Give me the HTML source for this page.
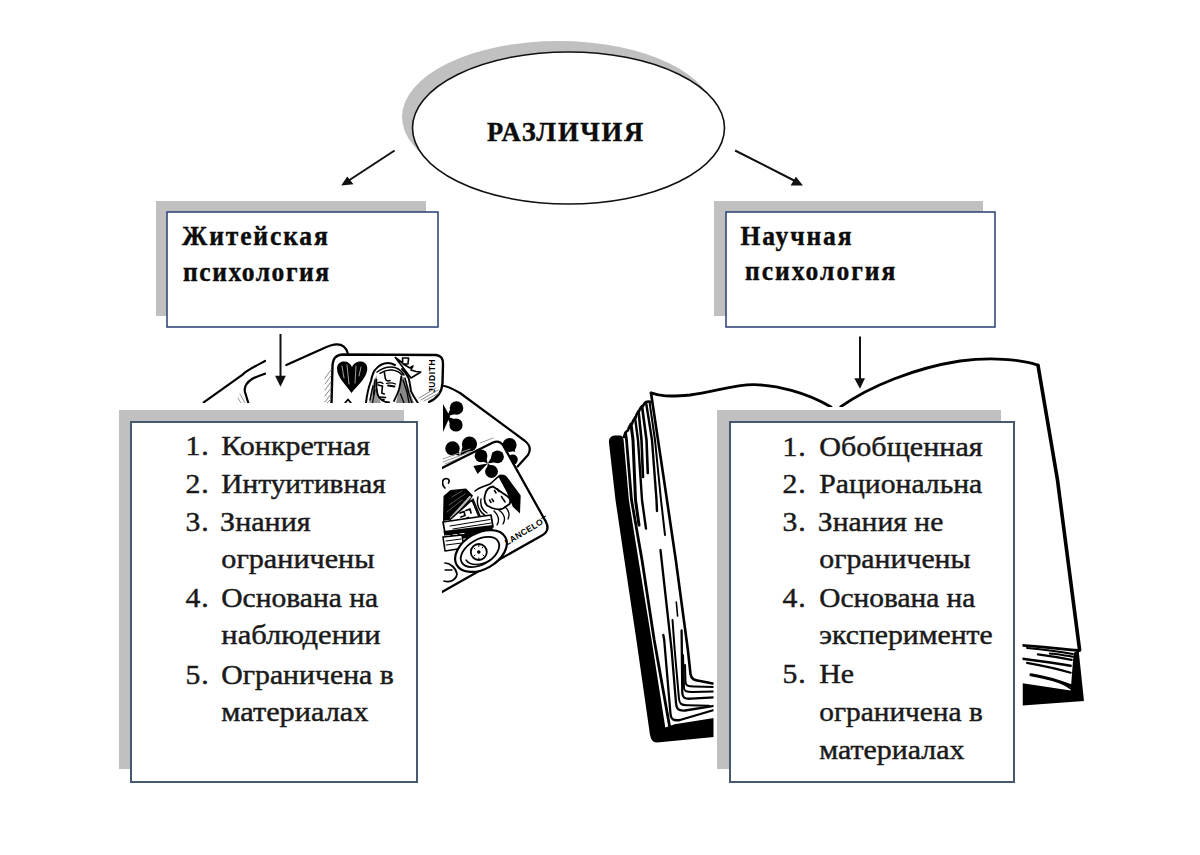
<!DOCTYPE html>
<html><head><meta charset="utf-8">
<style>
html,body{margin:0;padding:0;background:#fff;width:1200px;height:855px;overflow:hidden}
svg{display:block}
.b{font-family:"Liberation Serif",serif;font-weight:bold;fill:#0c0c0c;stroke:#0c0c0c;stroke-width:0.4px}
.r{font-family:"Liberation Serif",serif;fill:#1a1a1a}
</style></head><body>
<svg width="1200" height="855" viewBox="0 0 1200 855">
<ellipse cx="558.5" cy="117" rx="156.5" ry="76" fill="#c0c0c0"/>
<ellipse cx="568.5" cy="128" rx="156" ry="76" fill="#fff" stroke="#111" stroke-width="1.6"/>
<text class="b" font-size="28" letter-spacing="1.8" transform="translate(487,140.5) scale(0.95,1)">РАЗЛИЧИЯ</text>
<line x1="394.6" y1="150.5" x2="348" y2="181" stroke="#111" stroke-width="2"/>
<polygon points="341.2,185.6 347.2,176.5 353.5,184.2" fill="#111"/>
<line x1="735.1" y1="150.5" x2="797" y2="182" stroke="#111" stroke-width="2"/>
<polygon points="803,185.4 795.9,176.8 790.6,185.4" fill="#111"/>
<rect x="156" y="201" width="270" height="115" fill="#c0c0c0"/>
<rect x="167" y="212" width="271" height="115" fill="#fff" stroke="#34497a" stroke-width="1.6"/>
<text class="b" font-size="27.5" letter-spacing="2.0" transform="translate(182,244.5) scale(0.93,1)">Житейская</text>
<text class="b" font-size="27.5" letter-spacing="1.65" transform="translate(183,280.6) scale(0.93,1)">психология</text>
<rect x="714" y="201" width="269" height="115" fill="#c0c0c0"/>
<rect x="726" y="212" width="269" height="115" fill="#fff" stroke="#34497a" stroke-width="1.6"/>
<text class="b" font-size="27.5" letter-spacing="2.0" transform="translate(740.5,244.8) scale(0.93,1)">Научная</text>
<text class="b" font-size="27.5" letter-spacing="2.15" transform="translate(745,280.2) scale(0.93,1)">психология</text>
<g id="cards" stroke-linecap="round" stroke-linejoin="round" fill="none" stroke="#000">
<!-- hand lines -->
<path d="M203.7,402.3 L243,374.3 C246,371 250,369 265,361" stroke-width="2.2"/>
<path d="M265,373.7 C259,376 255,377 252,379 C246,383 244,388 245,392 L248.3,403" stroke-width="2.2"/>
<path d="M240,394 L245,403 M238,398 L241,403" stroke="#999" stroke-width="1"/>
<path d="M286.3,365 L320.3,349.7 C327,346.5 331,344.3 337,344.3 C343,344.3 346,347 347.7,353" stroke-width="2.2"/>
<!-- card 2 (clubs) -->
<path d="M444,386 L525,441 C530,445 531,450 528,455 L517.6,466.5 L442,520 L442,386 Z" fill="#fff" stroke="none"/>
<path d="M444,386 C447,386 452,388.5 460,393 L525,441 C530,445 531,450 528,455 L517.6,466.5" stroke-width="2.2"/>
<g fill="#000" stroke="none">
<circle cx="456.5" cy="408.0" r="6.8"/><path d="M447.0,416.4 L460.3,412.3 L452.7,403.7 Z"/>
<circle cx="456.0" cy="425.0" r="6.6"/><path d="M447.0,416.4 L452.1,429.1 L459.9,420.9 Z"/>
<path d="M450,416.4 L443,404 L443,432 Z"/>
<circle cx="452.5" cy="448.5" r="7.2"/><path d="M460.0,456.0 L456.8,444.2 L448.2,452.8 Z"/>
<circle cx="469.5" cy="444.0" r="7.6"/><path d="M460.0,456.0 L474.6,448.0 L464.4,440.0 Z"/>
<circle cx="509.6" cy="445.0" r="7.0"/><path d="M515.0,452.0 L514.3,441.4 L504.9,448.6 Z"/>
<circle cx="512.8" cy="459.6" r="5"/>
</g>
<path d="M443,459 L470,449 M443,462 L470,452 M445,464 L478,451 M480,443 L493,438" stroke="#999" stroke-width="1"/>
<!-- card 1 (queen) -->
<path d="M331.5,403 L332.5,366 C333,358 336,355 343,354.5 L436,355 C441,355.5 443,358 443,364 L442.5,383 C442,392 438,398 429,402" fill="#fff" stroke-width="2.4"/>
<path d="M325,378 L331,370 M325,384 L331,376 M325,390 L331,382 M325,396 L331,388 M325,402 L331,394 M327,403 L331,399" stroke="#888" stroke-width="1"/>
<!-- heart -->
<path d="M351.5,393 C346,385 337,377 337,368.5 C337,363 341,361 345,361.5 C349,362 351,365 352,367 C353.5,363.5 357,361 361,361.5 C366,362 368,366 367,371 C365.5,379 357,386 351.5,393 Z" fill="#000" stroke="none"/>
<path d="M342,366 L344,378 M347,365 L349,384 M356,366 L355,383 M361,367 L359,376" stroke="#fff" stroke-width="0.9" opacity="0.7"/>
<path d="M345,403 L348,399.5 L351,403" stroke-width="1.8"/>
<!-- queen hair -->
<path d="M366,403 C367,394 369,386 371,381 C372,376 373,372 375,370 C379,365 383,363 388,363 C391,363 393,364 395,365" stroke-width="2"/>
<path d="M402,369 C405,372 407,375 408.6,378 C410,383 410.5,388 411,391 C413,396 416,400 418,403" stroke-width="2"/>
<!-- hair shading -->
<path d="M369,403 L371,390 L374,380 L377,375 L376.4,379.4 L377.6,394.6 L381,403 Z" fill="#999" stroke="none"/>
<path d="M399,390 L401.3,376.3 L405,378 L408,385 L410,392 L414,403 L396,403 Z" fill="#888" stroke="none"/>
<path d="M370,400 L373,386 M372.5,403 L375,390 M375,380 L373.5,395 M403,380 L407,392 L409,403 M400.5,394 L404,403 M405,378 C407,384 407,390 412,403" stroke-width="1.3"/>
<path d="M377,372 C381,369 386,367 391,367 C396,367 401,370 404,375 M380,373.3 C384,370.5 388,369.5 392,370 C396,370.5 400,372.5 402,375" stroke-width="1.5"/>
<!-- face -->
<path d="M376.4,379.4 C376,385 376.5,390 377.6,394.6 C379,399 384,402.5 389.2,402.5" stroke-width="1.8"/>
<path d="M401.3,376.3 C400.5,382 400,386 398.9,389.7 C397.5,394 395.5,398 394,401" stroke-width="1.8"/>
<path d="M384.3,372 C385,376 385,379 386,380 C387.5,381.5 389,381 390,380.6" stroke-width="1.6"/>
<path d="M377.5,383 C379,382 381,382 383,383.5 M386.5,383.5 C389,382.5 392,382.5 395.5,384" stroke-width="1.3"/>
<path d="M378.2,385 L381.9,386 M388,385.5 L394.5,386.5" stroke-width="1.8"/>
<path d="M382.5,386 C382.3,389 381.8,391 381.9,393.3 L384.3,394" stroke-width="1.6"/>
<path d="M380,397 L385.5,397.6 M382,399.5 L384,399.6" stroke-width="1.5"/>
<!-- crown -->
<path d="M395.3,357.5 L402.6,363 L402.6,358 L408.6,358 L408,364 L403,364 L410,368 L413,366 L411,370 L416,371.5 L420.8,372 L411,378 Z" fill="#fff" stroke-width="1.6"/>
<text transform="translate(434.5,393) rotate(-90)" font-family="Liberation Sans, sans-serif" font-weight="bold" font-size="8.5" fill="#000" stroke="none" letter-spacing="0.6">JUDITH</text>
<path d="M421,400 L438,390 M424,401 L439,393 M419,398 L436,388" stroke="#888" stroke-width="1"/>
<!-- card 3 (Lancelot) -->
<path d="M442,468 L493,442.5 C498,440.5 501,442 503.5,446 L546,522 C549,528 547,533 541,536 L442,592" fill="#fff" stroke-width="2.3"/>
<g fill="#000" stroke="none">
<circle cx="481.0" cy="455.8" r="6.4"/><path d="M487.7,463.6 L485.1,452.3 L476.9,459.3 Z"/>
<circle cx="497.5" cy="456.8" r="6.4"/><path d="M487.7,463.6 L500.6,461.3 L494.4,452.3 Z"/>
<circle cx="491.5" cy="471.5" r="6.4"/><path d="M487.7,463.6 L486.6,473.9 L496.4,469.1 Z"/>
<path d="M487.7,463.6 L473.4,466.0 L477.6,474.0 Z"/>
</g>
<!-- hat -->
<path d="M498,476 C501,474 504,474 507,477 L520.7,495.4 L520,513.5 L512.8,506.8 L506.7,492 Z" fill="#000" stroke="none"/>
<path d="M475,491 C480,487 486,486 490,484 C494,481 497,477 500,475.5" stroke-width="1.6"/>
<!-- face -->
<path d="M485,495 C486,490 489,487 493,486.5 L507,496 C510,498 511,501 509.5,504 L503,508.5 C500,510 496,509.5 492,508 L487,505.5 C484.5,503 484,499 485,495 Z" fill="#fff" stroke-width="1.8"/>
<path d="M494.5,490.5 L496,493 M497.5,489 L499,491.5 M489.5,500 L491,502.5 M492,499 L493.5,501.5 M501.5,496.5 L503,499 M503.5,499.5 L505,502" stroke-width="1.5"/>
<path d="M478,497 C476,504 479,512 486,516 M481,499 C480,505 482,510 487,513" stroke-width="1.4"/>
<path d="M494,511 C498,515 500,520 497,525 M499,510 C504,514 506,519 503,524 M505,507 C509,510 510,515 508,519" stroke-width="1.3"/>
<!-- left helmet -->
<path d="M443.5,496 L450.5,490 L466,488.4 L473,495.4 L468,504 L449,520 L443,521 Z" fill="#000" stroke="none"/>
<path d="M470,497 L451,518" stroke="#bbb" stroke-width="2.2"/>
<path d="M452,497 L462,491 M449,505 L465,494 M447,512 L462,500" stroke="#666" stroke-width="0.9"/>
<path d="M445,488 C441,484 442,479 446,478.5 C449,478.5 450,481 448.5,483" stroke-width="1.7"/>
<!-- cross box -->
<path d="M449.6,520 L472,500 L479.5,518 L455,527 Z" fill="#fff" stroke-width="1.6"/>
<path d="M473,499 L480,516" stroke-width="1.4"/>
<path d="M460,513 L464,511.5 L465,515.5 L461,517 M466,510.5 L470,509 L471,513 M462,520 L468.5,517.5" stroke-width="1.7"/>
<!-- strap -->
<path d="M443,522 L491,515 L493,527 L445,533 Z" fill="#fff" stroke-width="1.7"/>
<path d="M450,526 L490,519.5 M453,529 L491,523" stroke-width="1"/>
<path d="M443.5,531 L492.6,525 L493,536 L445,540 Z" fill="#000" stroke="none"/>
<path d="M445,536 L450,535.5 M453,535 L457,534.5 M460,534 L464,533.5" stroke="#fff" stroke-width="1.2"/>
<!-- sleeve box -->
<path d="M443,537 L462,535 L464,548 L445,551 Z" fill="#fff" stroke-width="1.6"/>
<path d="M446,541 L461,539 M446,545 L462,543" stroke-width="1"/>
<!-- shield -->
<ellipse cx="481" cy="551" rx="28" ry="18" transform="rotate(-30 481 551)" fill="#fff" stroke-width="2.2"/>
<ellipse cx="480" cy="552" rx="21" ry="12.5" transform="rotate(-30 480 552)" stroke-width="1.8"/>
<path d="M466,560 C470,566 480,566 490,560" stroke-width="1.4"/>
<circle cx="478.8" cy="552" r="8" fill="#fff" stroke-width="1.8"/>
<circle cx="478.8" cy="552" r="1.8" fill="#000" stroke="none"/>
<path d="M474,548 L475,549 M483,547 L482,548 M484,556 L483,555 M474,556 L475,555 M478.8,545 L478.8,546.5 M478.8,558 L478.8,559" stroke-width="1"/>
<!-- hand -->
<path d="M445,563 C450,563 456,568 457,574 C456,580 450,583 444,581" fill="#fff" stroke-width="1.7"/>
<path d="M445,570 L452,570" stroke-width="1.3"/>
<text transform="translate(507,545.5) rotate(-31)" font-family="Liberation Sans, sans-serif" font-weight="bold" font-size="8.5" fill="#000" stroke="none" letter-spacing="0.3">LANCELOT</text>
</g>
<g id="book" stroke-linecap="round" stroke-linejoin="round" fill="none" stroke="#000">
<path d="M651,393 C660,396 670,397 690,395 C715,391 735,384 754,384.7 C775,385.5 805,392 831,407 L841,407 C870,385 925,364 982,359 C1005,358 1025,360 1038,365 L1080,650 L1084,702 L1022,706 L714,737 L654,742 L610,441 Z" fill="#fff" stroke="none"/>
<!-- black cover left -->
<path d="M614,435.6 C610,436.5 609,439 608.9,442 L615.5,500 L624.4,560 L636.4,640 L649.3,730 C650,738 652,742.5 657,742.5 L714,737 L714,718 L674.7,724.2 L665.3,727.4 L651.6,640 L638.5,560 L628.9,500 L623.6,440 C623,436.5 622,435.5 620,435.5 Z" fill="#000" stroke="none"/>
<!-- stair contour -->
<path d="M624,437 C625,433 626,431 628,430.5 C629,426.5 630,424.5 632,424 C633,420.5 634,418.5 635.5,418 C636.5,414 637.5,412 639,411.5 C640,408 641,406.5 643,406 C644,403.5 645,402 647,401.8 C648.5,401.3 650,401.5 651,402" stroke-width="2.6"/>
<path d="M625.5,433 L626.5,440 L631.5,500 L642,560 L654.2,640 L669.5,726" stroke-width="2.8"/>
<path d="M631,424 L633,440 L635.5,500 L639,525" stroke-width="3"/>
<path d="M635,417.5 L638,440 L642,500 L646,528.6" stroke-width="2.4"/>
<path d="M638.5,411 L641.5,440 L643,477" stroke-width="2.6"/>
<path d="M642,406 L646.5,440 L647.8,473" stroke-width="2.6"/>
<path d="M646,402 L652,440 L656.5,500 L657,511" stroke-width="2.4"/>
<path d="M649.5,402 L655,440 L661,500 L665,535" stroke-width="2"/>
<path d="M676.3,602 L677.6,616" stroke-width="1.6"/>
<!-- bottom nested curves -->
<path d="M663.3,635 L664.2,640 L670.5,714 C671,719 673,721 680,720 L714,710" stroke-width="2.3"/>
<path d="M660.5,550 L661.6,560 L671.6,650 L676,703 C676.5,709 678,711 685,710.5 L714,705.8" stroke-width="2.3"/>
<path d="M672.5,620 L674.7,650 L679,699 C679.5,703.5 681,705.5 688,705.2 L709,705.8" stroke-width="2"/>
<path d="M681.6,630.5 L682.3,693 C682.6,697.5 684,699 691,698.7 L714,697.4" stroke-width="2.3"/>
<path d="M683,655 L684,688 C684.3,691 686,692 692,692 L714,691.6" stroke-width="2"/>
<path d="M685,665 L685.5,682 C685.8,685.5 688,686.5 694,686.5 L714,687" stroke-width="2"/>
<!-- page edge -->
<path d="M651,393 L664,480 L675.8,560 L687.9,650 L690.5,674 C691.3,679 694,680.5 700,681 L714,683.7" stroke-width="2.6"/>
<!-- left page top line -->
<path d="M651,392.9 C660,396 668,397 690,395 C715,391.5 735,384.5 754,384.7 C776,385 806,392 831,407" stroke-width="2.8"/>
<!-- right page top -->
<path d="M840.8,406.7 C870,386 915,368 960,361 C990,357 1020,359 1038,365.2" stroke-width="2.8"/>
<!-- right page edge -->
<path d="M1038,365.2 L1057.5,480 L1079.6,650" stroke-width="3.6"/>
<!-- bottom right stack -->
<path d="M1022.5,645.4 C1040,646.5 1060,649 1079,650.5" stroke-width="2.8"/>
<path d="M1027,647.9 C1045,649.5 1060,651.5 1072.7,653.9" stroke-width="2"/>
<path d="M1049.8,653.4 C1058,654.5 1066,655.5 1072.7,656.8" stroke-width="2"/>
<path d="M1037.9,654.4 C1050,656 1062,658 1071.7,659.8" stroke-width="2.2"/>
<path d="M1022.5,658.8 C1040,661 1058,663.5 1070.7,665.8" stroke-width="2.4"/>
<path d="M1027,662.8 C1045,666 1060,669.5 1070.7,672.7" stroke-width="2.2"/>
<path d="M1030.9,674.7 C1045,677 1060,681.5 1070.7,685.7" stroke-width="3"/>
<path d="M1048.8,678.7 C1058,681 1065,684.5 1070.7,688.6" stroke-width="1.8"/>
<path d="M1022.5,683.2 L1070.7,690.6 L1073.6,652.9 L1078.6,649.9 L1084,701 L1022.5,705.5 Z" fill="#000" stroke="none"/>
</g>
<rect x="100" y="403" width="342" height="400" fill="#fff"/>
<rect x="713.5" y="407" width="309" height="400" fill="#fff"/>
<line x1="280.5" y1="334" x2="280.5" y2="378" stroke="#111" stroke-width="2"/>
<polygon points="275.1,375.7 285.8,375.7 280.5,386.8" fill="#111"/>
<line x1="860" y1="336.5" x2="860" y2="380" stroke="#111" stroke-width="2"/>
<polygon points="854.3,378.2 865,378.2 860,388.8" fill="#111"/>
<rect x="119" y="410" width="285" height="359" fill="#c0c0c0"/>
<rect x="131" y="422" width="286" height="360" fill="#fff" stroke="#465870" stroke-width="2"/>
<g class="r" font-size="27" stroke="#1a1a1a" stroke-width="0.45">
<text letter-spacing="0.8" transform="translate(185.5,455.3) scale(1.1,1)">1.</text>
<text transform="translate(221.3,455.3) scale(1.1121,1)">Конкретная</text>
<text letter-spacing="0.8" transform="translate(185.5,492.8) scale(1.1,1)">2.</text>
<text transform="translate(221.3,492.8) scale(1.0879,1)">Интуитивная</text>
<text letter-spacing="0.8" transform="translate(185.5,531.2) scale(1.1,1)">3.</text>
<text transform="translate(220.10000000000002,531.2) scale(1.1139,1)">Знания</text>
<text transform="translate(221.3,568) scale(1.1177,1)">ограничены</text>
<text letter-spacing="0.8" transform="translate(185.5,606.5) scale(1.1,1)">4.</text>
<text transform="translate(221.3,606.5) scale(1.0936,1)">Основана на</text>
<text transform="translate(221.3,643.8) scale(1.1324,1)">наблюдении</text>
<text letter-spacing="0.8" transform="translate(185.5,684) scale(1.1,1)">5.</text>
<text transform="translate(221.3,684) scale(1.1033,1)">Ограничена в</text>
<text transform="translate(221.3,720.6) scale(1.1217,1)">материалах</text>
</g>
<rect x="717" y="410" width="284" height="359" fill="#c0c0c0"/>
<rect x="730" y="422" width="284" height="360" fill="#fff" stroke="#465870" stroke-width="2"/>
<g class="r" font-size="27" stroke="#1a1a1a" stroke-width="0.45">
<text letter-spacing="0.8" transform="translate(782.5,455.7) scale(1.1,1)">1.</text>
<text transform="translate(819.3,455.7) scale(1.1146,1)">Обобщенная</text>
<text letter-spacing="0.8" transform="translate(782.5,493) scale(1.1,1)">2.</text>
<text transform="translate(819.3,493) scale(1.0993,1)">Рациональна</text>
<text letter-spacing="0.8" transform="translate(782.5,531.2) scale(1.1,1)">3.</text>
<text transform="translate(817.8,531.2) scale(1.0973,1)">Знания не</text>
<text transform="translate(819.3,567.8) scale(1.1037,1)">ограничены</text>
<text letter-spacing="0.8" transform="translate(782.5,606.7) scale(1.1,1)">4.</text>
<text transform="translate(819.3,606.7) scale(1.0879,1)">Основана на</text>
<text transform="translate(819.3,644.4) scale(1.1,1)">эксперименте</text>
<text letter-spacing="0.8" transform="translate(782.5,683.3) scale(1.1,1)">5.</text>
<text transform="translate(819.3,683.3) scale(1.1069,1)">Не</text>
<text transform="translate(819.3,721) scale(1.0865,1)">ограничена в</text>
<text transform="translate(819.3,758.9) scale(1.1077,1)">материалах</text>
</g>
</svg>
</body></html>
